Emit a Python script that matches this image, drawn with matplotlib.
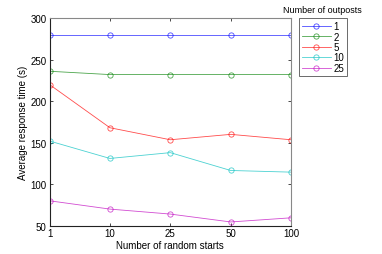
import numpy as np
import matplotlib.pyplot as plt

plt.rcParams['font.family'] = ['Liberation Sans', 'DejaVu Sans']

starts = ['1', '10', '25', '50', '100']
outposts = ['1', '2', '5', '10', '25']
resp_1 = [280, 280, 280, 280, 280]
resp_2 = [236, 232, 232, 232, 232]
resp_5 = [220, 168, 153.5, 160, 153.5]
resp_10 = [152, 131, 138, 116.5, 114.5]
resp_25 = [80, 70, 64, 54.5, 59.5]

colors = ['#0000ff', '#008000', '#ff0000', '#00bfbf', '#bf00bf']

fig = plt.figure(figsize=(3.82, 2.55), dpi=100)
ax = fig.add_axes([0.1296, 0.111, 0.6324, 0.814])

x = np.arange(len(starts))
for vals, c, lab in zip([resp_1, resp_2, resp_5, resp_10, resp_25], colors, outposts):
    ax.plot(x, vals, '-o', color=c, lw=0.6, ms=3.8, mfc='none', mew=0.6, alpha=0.7, label=lab)

ax.set_xlim(0, 4)
ax.set_ylim(50, 300)
ax.set_xticks(x)
ax.set_xticklabels(starts)
ax.set_yticks([50, 100, 150, 200, 250, 300])
ax.tick_params(direction='in', labelsize=7, length=2, width=0.5, top=True, right=True, pad=2)
for s in ['left', 'bottom']:
    ax.spines[s].set_linewidth(0.8)
    ax.spines[s].set_color('#222222')
for s in ['top', 'right']:
    ax.spines[s].set_linewidth(0.8)
    ax.spines[s].set_color('#888888')
ax.set_xlabel('Number of random starts', fontsize=7, labelpad=1)
ax.set_ylabel('Average response time (s)', fontsize=7, labelpad=2)

leg = ax.legend(loc='upper left', bbox_to_anchor=(0.782, 0.925), bbox_transform=fig.transFigure,
                fontsize=7, frameon=True, fancybox=False, handlelength=3.0, handletextpad=0.3,
                borderpad=0.3, labelspacing=0.05, borderaxespad=0)
leg.get_frame().set_edgecolor('#444444')
leg.get_frame().set_linewidth(0.7)
fig.text(0.843, 0.96, 'Number of outposts', fontsize=6.5, ha='center', va='center')

fig.savefig('out.png', dpi=100)
